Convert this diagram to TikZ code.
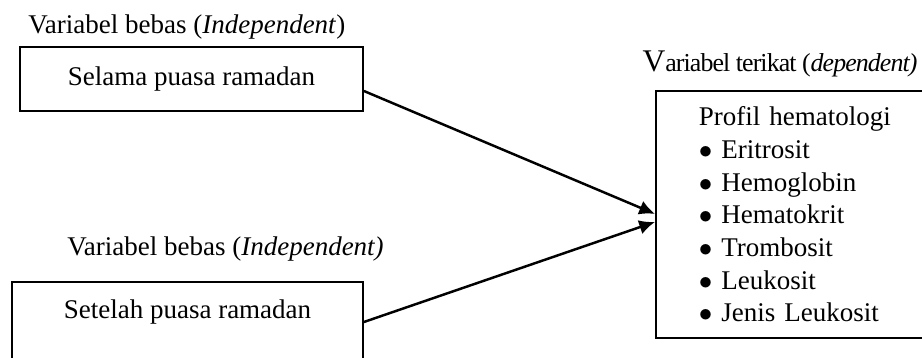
\documentclass[tikz,border=0pt]{standalone}
\usepackage{fontspec}
\setmainfont{Liberation Serif}
\usetikzlibrary{positioning, calc, arrows.meta}

\begin{document}
\begin{tikzpicture}[x=0.015625cm, y=-0.015625cm,
    font=\fontsize{12pt}{14.5pt}\selectfont,
    kotak/.style={draw, rectangle, line width=0.8pt, inner sep=0pt, align=center},
    judul/.style={inner sep=0pt, anchor=base west},
    panah/.style={-{Latex[length=7pt, width=6.5pt]}, line width=1.1pt}]

            \clip (0,0) rectangle (922,358);

            \node[judul] (lblsel) at (28,33) {Variabel bebas (\textit{Independent})};
            \node[kotak, minimum width=5.36cm, minimum height=1cm] (sel) at (191.5,79)
            {Selama puasa ramadan};

            \node[judul] (lblset) at (67,255) {Variabel bebas (\textit{Independent)}};
            \node[kotak, minimum width=5.484cm, minimum height=1.516cm] (set) at (187.5,330.5)
            {Setelah puasa ramadan\\ \strut};

            \node[judul, anchor=base east, font=\fontsize{11.5pt}{14pt}\selectfont\addfontfeatures{LetterSpace=-3.5}] (lblhem) at (917,72)
            {{\fontsize{14pt}{14pt}\selectfont V}ariabel terikat (\textit{dependent)}};
            \node[kotak, anchor=north west, align=left, text width=3.59cm,
                  inner xsep=0.672cm, minimum height=3.86cm] (hem) at (655,90)
            {Profil hematologi\\
             $\bullet$ Eritrosit\\
             $\bullet$ Hemoglobin\\
             $\bullet$ Hematokrit\\
             $\bullet$ Trombosit\\
             $\bullet$ Leukosit\\
             $\bullet$ Jenis Leukosit};

            \draw[panah] ($(sel.east)+(0,12)$) -- ($(hem.west)+(0,-0.5)$);
            \draw[panah] ($(set.east)+(0,-8.5)$) -- ($(hem.west)+(0,7.5)$);

\end{tikzpicture}
\end{document}
